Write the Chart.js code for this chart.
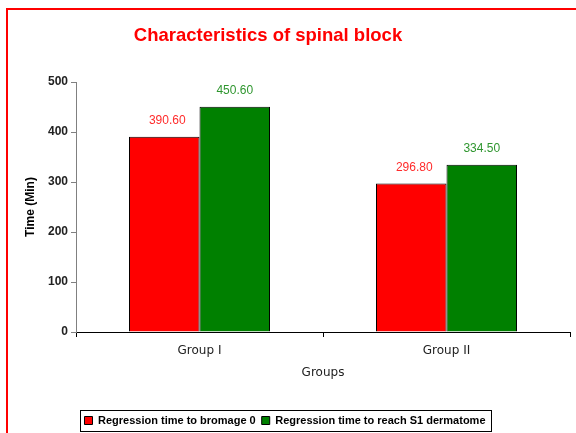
<!DOCTYPE html>
<html>
<head>
<meta charset="utf-8">
<script src="https://cdn.jsdelivr.net/npm/chart.js@4.4.0/dist/chart.umd.min.js"></script>
<style>
  html, body { margin: 0; padding: 0; background: #fff; }
  #wrap { position: relative; width: 576px; height: 433px; overflow: hidden; }
  #frame { position: absolute; left: 6px; top: 8px; width: 640px; height: 500px; border: 2px solid #ff0000; pointer-events: none; }
  canvas { position: absolute; left: 0; top: 0; }
</style>
</head>
<body>
<div id="wrap">
  <canvas id="c" width="576" height="433"></canvas>
  <div id="frame"></div>
</div>
<script>
const chartTitle = "Characteristics of spinal block";
const categories = ["Group I", "Group II"];
const seriesNames = ["Regression time to bromage 0", "Regression time to reach S1 dermatome"];
const bromage0 = [390.60, 296.80];
const s1Dermatome = [450.60, 334.50];
const yTicks = [0, 100, 200, 300, 400, 500];
const xAxisTitle = "Groups";
const yAxisTitle = "Time (Min)";

const labelColors = ["#ff2b2b", "#2f962f"];

const valueLabels = {
  id: "valueLabels",
  afterDatasetsDraw(chart) {
    const ctx = chart.ctx;
    ctx.save();
    ctx.font = "12px 'Liberation Sans', Arial, sans-serif";
    ctx.textAlign = "center";
    ctx.textBaseline = "middle";
    chart.data.datasets.forEach((ds, i) => {
      const meta = chart.getDatasetMeta(i);
      ctx.fillStyle = labelColors[i];
      meta.data.forEach((el, j) => {
        ctx.fillText(ds.data[j].toFixed(2), el.x + (i === 0 ? 3 : 0), el.y - 16);
      });
    });
    ctx.restore();
  }
};

const extras = {
  id: "extras",
  afterDraw(chart) {
    const ctx = chart.ctx;
    ctx.save();
    ctx.font = "bold 18.5px 'Liberation Sans', Arial, sans-serif";
    ctx.fillStyle = "#ff0000";
    ctx.textAlign = "center";
    ctx.textBaseline = "alphabetic";
    ctx.fillText(chartTitle, 268, 41);
    const hb = chart.legend.legendHitBoxes;
    if (hb && hb.length) {
      const l = hb[0].left - 4;
      const last = hb[hb.length - 1];
      const r = last.left + last.width + 6;
      const t = hb[0].top - 5;
      const b = hb[0].top + hb[0].height + 5;
      ctx.strokeStyle = "#000";
      ctx.lineWidth = 1;
      ctx.strokeRect(Math.round(l) + 0.5, Math.round(t) + 0.5, Math.round(r - l), Math.round(b - t));
    }
    ctx.restore();
  }
};

new Chart(document.getElementById("c"), {
  type: "bar",
  data: {
    labels: categories,
    datasets: [
      { label: seriesNames[0], data: bromage0, backgroundColor: "#ff0000", borderColor: "#000", borderWidth: 1 },
      { label: seriesNames[1], data: s1Dermatome, backgroundColor: "#008000", borderColor: "#000", borderWidth: 1 }
    ]
  },
  options: {
    responsive: false,
    animation: false,
    devicePixelRatio: 1,
    layout: { padding: { top: 82, right: 6, bottom: -3, left: 0 } },
    datasets: { bar: { categoryPercentage: 0.571, barPercentage: 1.0 } },
    plugins: {
      title: { display: false },
      tooltip: { enabled: false },
      legend: {
        position: "bottom",
        labels: {
          boxWidth: 8, boxHeight: 8, padding: 6,
          color: "#000",
          font: { family: "'Liberation Sans', Arial, sans-serif", size: 11, weight: "bold" }
        }
      }
    },
    scales: {
      x: {
        grid: { display: true, drawOnChartArea: false, drawTicks: true, tickLength: 5, color: "#000", offset: true },
        border: { display: true, color: "#000", width: 1 },
        ticks: { color: "#222", padding: 7, font: { family: "'DejaVu Sans', sans-serif", size: 12 } },
        title: { display: true, text: xAxisTitle, color: "#222", padding: { top: 0, bottom: 29 }, font: { family: "'DejaVu Sans', sans-serif", size: 12 } },
        afterFit(scale) { scale.height = 77; }
      },
      y: {
        min: 0, max: 500,
        afterBuildTicks(scale) { scale.ticks = yTicks.map(v => ({ value: v })); },
        grid: { display: true, drawOnChartArea: false, drawTicks: true, tickLength: 5, color: "#808080" },
        border: { display: true, color: "#808080", width: 1 },
        ticks: { color: "#222", padding: 3, font: { family: "'Liberation Sans', Arial, sans-serif", size: 12, weight: "bold" } },
        title: { display: true, text: yAxisTitle, color: "#000", padding: { top: 23, bottom: 0 }, font: { family: "'Liberation Sans', Arial, sans-serif", size: 12, weight: "bold" } },
        afterFit(scale) { scale.width = 76; }
      }
    }
  },
  plugins: [valueLabels, extras]
});
</script>
</body>
</html>
